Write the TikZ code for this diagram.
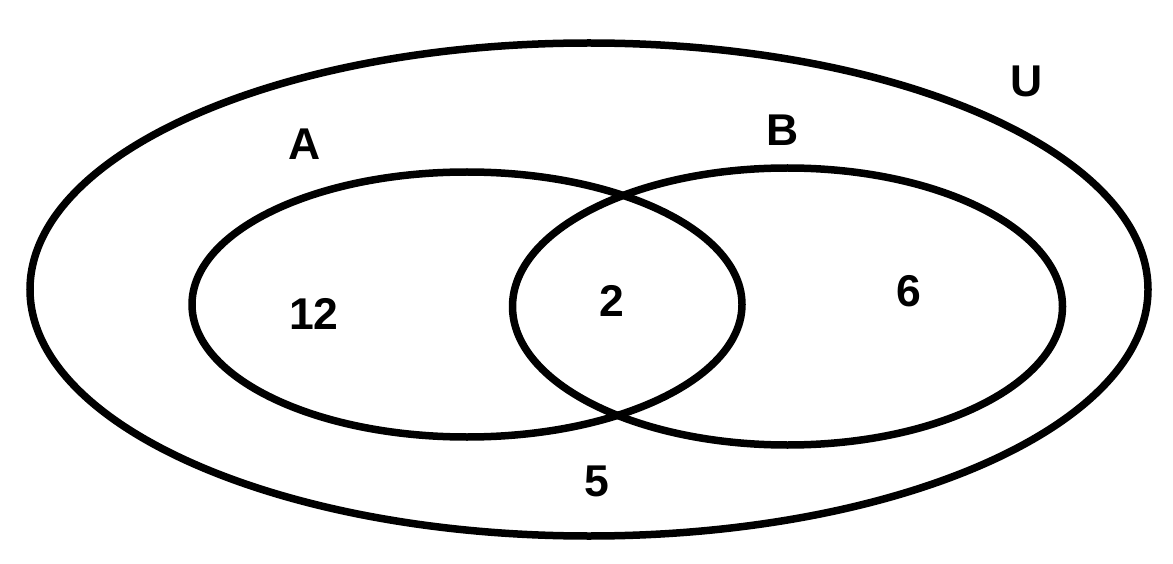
\documentclass[tikz,border=0pt]{standalone}
\usepackage{fontspec}
\setmainfont{Liberation Sans}
\begin{document}
\begin{tikzpicture}[x=1pt,y=-1pt,
  setline/.style={line width=7.5pt,draw=black},
  lbl/.style={inner sep=0pt,font=\fontsize{44.5}{50}\selectfont\bfseries}]
\useasboundingbox (0,0) rectangle (1173,564);
\draw[setline] (589,289.5) ellipse [x radius=559, y radius=246.5];
\draw[setline] (467,304.5) ellipse [x radius=275, y radius=132.5];
\draw[setline] (787.5,306.5) ellipse [x radius=275, y radius=138.5];
\node[lbl] (lA) at (305,144) {A};
\node[lbl] (lB) at (783,130) {B};
\node[lbl] (lU) at (1027,81) {U};
\node[lbl] (n12) at (314,313.5) {12};
\node[lbl] (n2) at (612,301) {2};
\node[lbl] (n6) at (908.5,291.5) {6};
\node[lbl] (n5) at (596.5,481) {5};
\end{tikzpicture}
\end{document}
